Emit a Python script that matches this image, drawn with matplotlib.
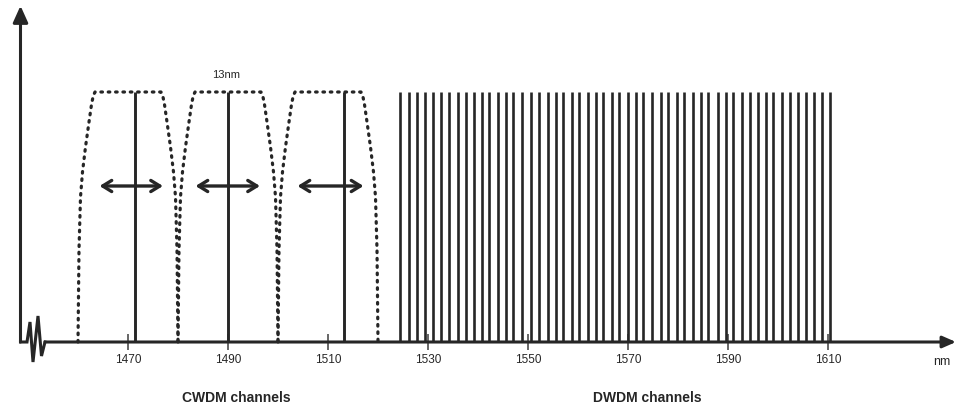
import matplotlib.pyplot as plt

plt.rcParams['font.family'] = ['Liberation Sans', 'DejaVu Sans']

# -----------------------------
# Data
# -----------------------------
tick_nm = [1470, 1490, 1510, 1530, 1550, 1570, 1590, 1610]
tick_labels = ["1470", "1490", "1510", "1530", "1550", "1570", "1590", "1610"]

# CWDM: filter centres (nm) and the channel line inside each filter
cwdm_filter_centres = [1470, 1490, 1510]
cwdm_channels = [1471.5, 1490.0, 1513.3]
# passband arrows (left, right) in nm
cwdm_arrows = [(1464.3, 1477.0), (1483.5, 1496.4), (1503.9, 1517.1)]

# filter outline: half width (nm) at relative height
filter_half_width = [6.6, 6.95, 7.3, 7.8, 8.5, 9.1, 9.5, 9.8, 10.0]
filter_height = [1.0, 0.985, 0.95, 0.88, 0.78, 0.68, 0.58, 0.37, 0.0]

# DWDM channels (nm)
dwdm_channels = [
    1524.5, 1526.2, 1527.7, 1529.4, 1530.9, 1532.6, 1534.3, 1535.9, 1537.5,
    1539.2, 1540.7, 1542.3, 1543.9, 1545.5, 1547.1, 1548.7, 1550.5, 1552.3,
    1553.9, 1555.5, 1557.1, 1558.7, 1560.3, 1561.9, 1563.5, 1565.1, 1566.7,
    1568.3, 1569.9, 1571.5, 1573.1, 1574.7, 1576.5, 1578.1, 1579.7, 1581.3,
    1582.9, 1584.5, 1586.1, 1587.9, 1589.5, 1591.1, 1592.7, 1594.3, 1595.9,
    1597.5, 1599.1, 1600.7, 1602.3, 1603.9, 1605.6, 1607.2, 1608.8, 1610.4,
]
channel_power = 1.0

# -----------------------------
# Plot
# -----------------------------
fig = plt.figure(figsize=(9.56, 4.11), dpi=100)
ax = fig.add_axes([0, 0, 1, 1])
ax.set_xlim(1444.4, 1635.6)
ax.set_ylim(-0.276, 1.368)
for s in ax.spines.values():
    s.set_visible(False)
ax.set_yticks([])

ink = "#262626"

# axes with arrows
x0 = 1448.5
ax.annotate("", xy=(x0, 1.345), xytext=(x0, 0), zorder=5,
            arrowprops=dict(arrowstyle="-|>,head_length=1.0,head_width=0.45",
                            lw=2.2, color=ink, shrinkA=0, shrinkB=0))
ax.annotate("", xy=(1635.6, 0), xytext=(1453.4, 0), zorder=5,
            arrowprops=dict(arrowstyle="-|>,head_length=0.8,head_width=0.35",
                            lw=2.2, color=ink, shrinkA=0, shrinkB=0))
# axis break
ax.plot([x0, 1449.8, 1450.4, 1451.0, 1452.0, 1452.7, 1453.4],
        [0, 0, 0.08, -0.08, 0.104, -0.056, 0], color=ink, lw=2.2,
        solid_joinstyle="miter", zorder=5)

# ticks
ax.set_xticks(tick_nm)
ax.set_xticklabels(tick_labels)
ax.tick_params(axis="x", direction="inout", length=11, width=1.4,
               color="#666666", pad=3, labelsize=8.5, labelcolor=ink)
ax.xaxis.set_ticks_position("bottom")
ax.spines["bottom"].set_position(("data", 0))

# CWDM filters
for c in cwdm_filter_centres:
    xs = [c - w for w in filter_half_width[::-1]] + [c + w for w in filter_half_width]
    ys = filter_height[::-1] + filter_height
    ax.plot(xs, ys, color=ink, lw=2.3, linestyle=(0, (0.5, 1.8)),
            dash_capstyle="round", zorder=3)

ax.vlines(cwdm_channels, 0, channel_power, color=ink, lw=2.1, zorder=4)

for a, b in cwdm_arrows:
    ax.annotate("", xy=(b, 0.624), xytext=(a, 0.624), zorder=4,
                arrowprops=dict(arrowstyle="<->,head_length=0.65,head_width=0.4",
                                lw=2.4, color=ink, shrinkA=0, shrinkB=0))

ax.text(1489.7, 1.068, "13nm", ha="center", va="center", fontsize=8, color=ink)

# DWDM
ax.vlines(dwdm_channels, 0, channel_power, color=ink, lw=1.9, zorder=4)

ax.text(1632.8, -0.08, "nm", ha="center", va="center", fontsize=9, color=ink)
ax.text(1491.6, -0.224, "CWDM channels", ha="center", va="center",
        fontsize=10, fontweight="bold", color=ink)
ax.text(1573.8, -0.224, "DWDM channels", ha="center", va="center",
        fontsize=10, fontweight="bold", color=ink)

plt.savefig("out.png", dpi=100)
